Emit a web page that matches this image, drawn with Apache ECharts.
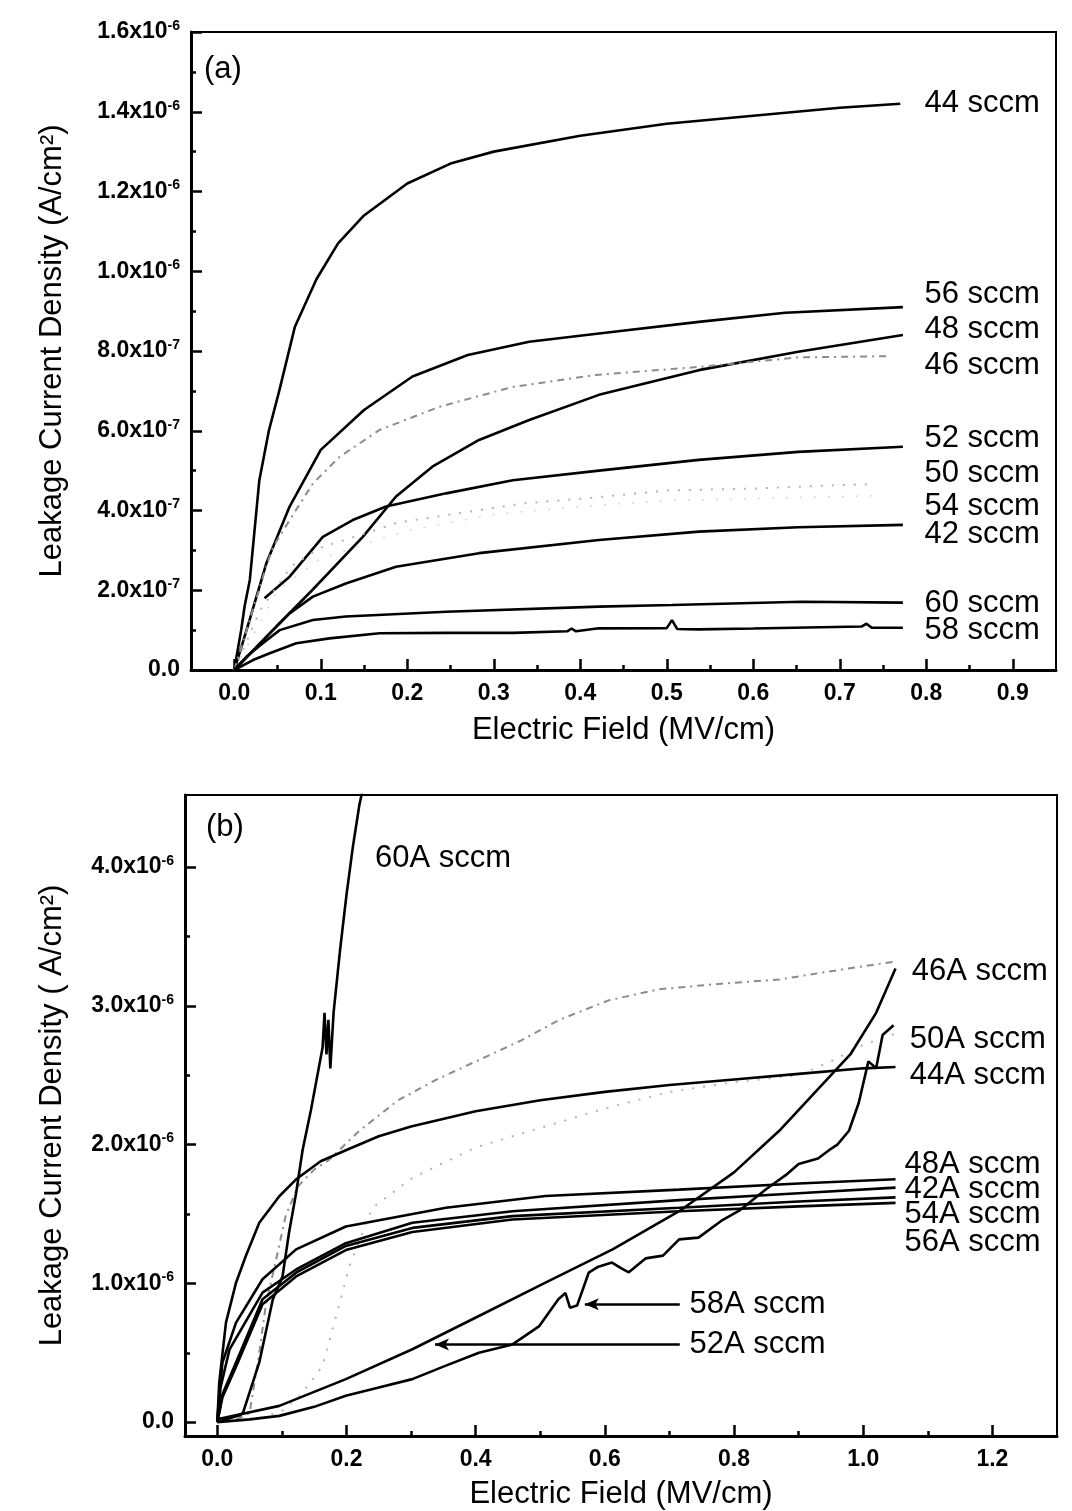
<!DOCTYPE html>
<html><head><meta charset="utf-8">
<script src="https://cdn.jsdelivr.net/npm/echarts@6/dist/echarts.min.js"></script>
<style>html,body{margin:0;padding:0;background:#fff}#c{width:1072px;height:1511px}</style>
</head><body><div id="c"></div>
<script>
// ===== Panel (a): field in MV/cm, current density in units of 1e-6 A/cm^2 =====
const a44x = [0, 0.004, 0.008, 0.012, 0.018, 0.029, 0.04, 0.052, 0.07, 0.095, 0.12, 0.15, 0.2, 0.25, 0.3, 0.4, 0.5, 0.6, 0.7, 0.77];
const a44y = [0, 0.05, 0.10, 0.16, 0.226, 0.476, 0.60, 0.70, 0.86, 0.98, 1.07, 1.14, 1.22, 1.27, 1.30, 1.34, 1.37, 1.39, 1.41, 1.42];
const a56x = [0, 0.01, 0.02, 0.037, 0.064, 0.1, 0.15, 0.206, 0.27, 0.341, 0.4216, 0.537, 0.637, 0.773];
const a56y = [0, 0.07, 0.142, 0.267, 0.41, 0.552, 0.652, 0.736, 0.79, 0.823, 0.844, 0.873, 0.896, 0.91];
const a48x = [0, 0.02, 0.0486, 0.09, 0.1486, 0.187, 0.229, 0.283, 0.341, 0.4216, 0.537, 0.652, 0.773];
const a48y = [0, 0.045, 0.109, 0.20, 0.334, 0.435, 0.51, 0.577, 0.627, 0.69, 0.752, 0.798, 0.84];
const a46x = [0, 0.01, 0.02, 0.037, 0.045, 0.064, 0.091, 0.122, 0.168, 0.237, 0.322, 0.418, 0.537, 0.652, 0.756];
const a46y = [0, 0.07, 0.14, 0.26, 0.309, 0.376, 0.468, 0.535, 0.602, 0.66, 0.71, 0.74, 0.76, 0.784, 0.787];
const a52x = [0.035, 0.064, 0.1024, 0.137, 0.1755, 0.245, 0.322, 0.4216, 0.537, 0.652, 0.773];
const a52y = [0.18, 0.234, 0.334, 0.376, 0.41, 0.443, 0.476, 0.50, 0.527, 0.547, 0.56];
const a50x = [0, 0.03, 0.066, 0.099, 0.19, 0.335, 0.404, 0.5, 0.6, 0.7, 0.74];
const a50y = [0, 0.15, 0.26, 0.306, 0.37, 0.418, 0.43, 0.45, 0.455, 0.464, 0.466];
const a54x = [0, 0.05, 0.1, 0.2, 0.3, 0.4, 0.5, 0.6, 0.7, 0.74];
const a54y = [0, 0.2, 0.28, 0.35, 0.39, 0.41, 0.425, 0.43, 0.435, 0.437];
const a42x = [0, 0.02, 0.041, 0.064, 0.0909, 0.129, 0.187, 0.283, 0.4216, 0.537, 0.652, 0.773];
const a42y = [0, 0.045, 0.092, 0.142, 0.184, 0.217, 0.259, 0.293, 0.326, 0.347, 0.358, 0.364];
const a60x = [0, 0.014, 0.033, 0.0525, 0.0909, 0.129, 0.245, 0.4216, 0.506, 0.656, 0.773];
const a60y = [0, 0.033, 0.067, 0.10, 0.1254, 0.134, 0.146, 0.159, 0.163, 0.171, 0.169];
const a58x = [0, 0.0217, 0.041, 0.0717, 0.11, 0.168, 0.245, 0.322, 0.385, 0.39, 0.395, 0.4216, 0.5, 0.506, 0.512, 0.537, 0.6, 0.725, 0.731, 0.737, 0.773];
const a58y = [0, 0.025, 0.042, 0.067, 0.0794, 0.092, 0.093, 0.093, 0.097, 0.104, 0.097, 0.1045, 0.105, 0.125, 0.103, 0.102, 0.104, 0.109, 0.116, 0.106, 0.106];

const aLabelText = ['44 sccm', '56 sccm', '48 sccm', '46 sccm', '52 sccm', '50 sccm', '54 sccm', '42 sccm', '60 sccm', '58 sccm'];
const aLabelY = [1.42, 0.943, 0.854, 0.765, 0.581, 0.493, 0.41, 0.339, 0.167, 0.10];
const aLabelX = 0.798;

// ===== Panel (b) =====
const b60x = [0, 0.02, 0.035, 0.04, 0.065, 0.086, 0.101, 0.111, 0.122, 0.132, 0.145, 0.155, 0.163, 0.166, 0.169, 0.172, 0.175, 0.18, 0.19, 0.2, 0.21, 0.22, 0.228];
const b60y = [0, 0.03, 0.05, 0.07, 0.43, 0.885, 1.05, 1.365, 1.65, 1.96, 2.25, 2.5, 2.7, 2.95, 2.65, 2.9, 2.55, 2.95, 3.4, 3.8, 4.15, 4.45, 4.62];
const b46x = [0, 0.03, 0.05, 0.065, 0.075, 0.091, 0.106, 0.125, 0.15, 0.173, 0.22, 0.28, 0.34, 0.405, 0.47, 0.53, 0.606, 0.684, 0.78, 0.87, 0.95, 1.02, 1.05];
const b46y = [0, 0.02, 0.066, 0.5, 0.84, 1.17, 1.49, 1.7, 1.82, 1.89, 2.1, 2.32, 2.47, 2.61, 2.75, 2.9, 3.04, 3.12, 3.16, 3.19, 3.25, 3.3, 3.32];
const b50x = [0, 0.06, 0.1, 0.13, 0.163, 0.193, 0.204, 0.24, 0.302, 0.4, 0.5, 0.6, 0.7, 0.8, 0.9, 0.95, 1.0, 1.05];
const b50y = [0, 0.02, 0.08, 0.2, 0.405, 0.92, 1.12, 1.545, 1.76, 1.98, 2.12, 2.26, 2.38, 2.45, 2.5, 2.6, 2.72, 2.8];
const b44x = [0, 0.003, 0.0134, 0.029, 0.044, 0.065, 0.096, 0.122, 0.16, 0.199, 0.25, 0.3, 0.4, 0.5, 0.6, 0.7, 0.8, 0.9, 1.0, 1.05];
const b44y = [0, 0.285, 0.717, 1.005, 1.196, 1.437, 1.628, 1.75, 1.88, 1.96, 2.06, 2.13, 2.24, 2.32, 2.38, 2.43, 2.47, 2.51, 2.55, 2.56];
const b48x = [0, 0.003, 0.008, 0.029, 0.07, 0.122, 0.199, 0.354, 0.508, 0.715, 0.9, 1.05];
const b48y = [0, 0.2, 0.43, 0.717, 1.03, 1.245, 1.41, 1.545, 1.63, 1.676, 1.72, 1.75];
const b42x = [0, 0.005, 0.019, 0.07, 0.122, 0.199, 0.302, 0.457, 0.715, 0.9, 1.05];
const b42y = [0, 0.25, 0.525, 0.933, 1.10, 1.29, 1.437, 1.52, 1.60, 1.65, 1.69];
const b54x = [0, 0.008, 0.029, 0.07, 0.122, 0.199, 0.302, 0.457, 0.715, 0.9, 1.05];
const b54y = [0, 0.2, 0.43, 0.885, 1.077, 1.27, 1.40, 1.485, 1.545, 1.59, 1.62];
const b56x = [0, 0.008, 0.029, 0.07, 0.122, 0.199, 0.302, 0.457, 0.715, 0.9, 1.05];
const b56y = [0, 0.18, 0.40, 0.85, 1.05, 1.24, 1.37, 1.46, 1.52, 1.555, 1.58];
const b52x = [0, 0.096, 0.199, 0.302, 0.405, 0.508, 0.612, 0.715, 0.8, 0.87, 0.93, 0.98, 1.02, 1.05];
const b52y = [0.02, 0.117, 0.31, 0.525, 0.765, 1.005, 1.245, 1.52, 1.8, 2.1, 2.4, 2.65, 2.95, 3.27];
const b58x = [0, 0.05, 0.096, 0.15, 0.199, 0.25, 0.302, 0.35, 0.405, 0.457, 0.498, 0.528, 0.539, 0.546, 0.557, 0.575, 0.59, 0.611, 0.625, 0.637, 0.663, 0.69, 0.715, 0.745, 0.78, 0.81, 0.85, 0.88, 0.9, 0.93, 0.947, 0.96, 0.978, 0.993, 1.008, 1.02, 1.03, 1.047];
const b58y = [0, 0.02, 0.045, 0.11, 0.19, 0.25, 0.31, 0.4, 0.50, 0.56, 0.69, 0.885, 0.93, 0.825, 0.84, 1.077, 1.12, 1.15, 1.11, 1.08, 1.18, 1.2, 1.317, 1.33, 1.45, 1.53, 1.68, 1.78, 1.86, 1.9, 1.96, 2.0, 2.1, 2.3, 2.6, 2.55, 2.79, 2.86];

const bLabelText = ['60A sccm', '46A sccm', '50A sccm', '44A sccm', '48A sccm', '42A sccm', '54A sccm', '56A sccm', '58A sccm', '52A sccm'];
const bLabelX = [0.244, 1.075, 1.072, 1.072, 1.064, 1.064, 1.064, 1.064, 0.731, 0.731];
const bLabelY = [4.065, 3.245, 2.755, 2.50, 1.856, 1.676, 1.496, 1.295, 0.849, 0.561];
// arrows: [from x, to x (arrow head), y]
const bArrows = [[0.716, 0.569, 0.85], [0.716, 0.337, 0.56]];

// ===== Axis ticks =====
const aXTicks = [0, 0.1, 0.2, 0.3, 0.4, 0.5, 0.6, 0.7, 0.8, 0.9];
const aXMinor = [0.05, 0.15, 0.25, 0.35, 0.45, 0.55, 0.65, 0.75, 0.85];
const aYTicks = [0, 0.2, 0.4, 0.6, 0.8, 1.0, 1.2, 1.4, 1.6];
const aYMant = ['0.0', '2.0x10', '4.0x10', '6.0x10', '8.0x10', '1.0x10', '1.2x10', '1.4x10', '1.6x10'];
const aYExp = ['', '-7', '-7', '-7', '-7', '-6', '-6', '-6', '-6'];
const aYMinor = [0.1, 0.3, 0.5, 0.7, 0.9, 1.1, 1.3, 1.5];
const bXTicks = [0, 0.2, 0.4, 0.6, 0.8, 1.0, 1.2];
const bXMinor = [0.1, 0.3, 0.5, 0.7, 0.9, 1.1];
const bYTicks = [0, 1, 2, 3, 4];
const bYMant = ['0.0', '1.0x10', '2.0x10', '3.0x10', '4.0x10'];
const bYExp = ['', '-6', '-6', '-6', '-6'];
const bYMinor = [0.5, 1.5, 2.5, 3.5];

const FF = "'Liberation Sans', Arial, Helvetica, sans-serif";
const pts = (xs, ys) => xs.map((x, i) => [x, ys[i]]);

const SOLID = {color: '#000', width: 2.6, type: 'solid'};
const DASHGRAY = {color: '#8c8c8c', width: 2, type: [7, 5, 2, 5]};
const DOTLIGHT = {color: '#b4b4b4', width: 2, type: [2, 9]};
const DOTFAINT = {color: '#d6d6d6', width: 1.5, type: [2, 12]};

function line(xs, ys, g, style, name) {
  return {type: 'line', name, xAxisIndex: g * 2, yAxisIndex: g * 2, data: pts(xs, ys),
    showSymbol: false, symbol: 'none', lineStyle: style, silent: true, z: 3, animation: false};
}

function yFmt(ticks, mant, exp) {
  return v => {
    const i = ticks.findIndex(t => Math.abs(t - v) < 1e-6);
    if (i < 0) return '';
    return '{m|' + mant[i] + '}' + (exp[i] ? '{e|' + exp[i] + '}' : '');
  };
}
const yRich = {
  m: {fontSize: 23, fontWeight: 'bold', fontFamily: FF, color: '#000', lineHeight: 26},
  e: {fontSize: 14, fontWeight: 'bold', fontFamily: FF, color: '#000', lineHeight: 13, verticalAlign: 'top'}
};

function mainX(g, min, max, ticks, name, gap) {
  return {type: 'value', gridIndex: g, min, max, position: 'bottom',
    axisLine: {show: true, onZero: false, lineStyle: {color: '#000', width: 3}},
    axisTick: {show: true, inside: true, length: 11, lineStyle: {color: '#000', width: 2.5}, customValues: ticks},
    axisLabel: {show: true, customValues: ticks, margin: 12, formatter: v => v.toFixed(1),
      fontSize: 23, fontWeight: 'bold', fontFamily: FF, color: '#000'},
    splitLine: {show: false},
    name, nameLocation: 'middle', nameGap: gap,
    nameTextStyle: {fontSize: 31, fontFamily: FF, color: '#000'}};
}
function minorX(g, min, max, ticks) {
  return {type: 'value', gridIndex: g, min, max, position: 'bottom',
    axisLine: {show: false, onZero: false}, axisLabel: {show: false}, splitLine: {show: false},
    axisTick: {show: true, inside: true, length: 5, lineStyle: {color: '#000', width: 2.5}, customValues: ticks}};
}
function mainY(g, min, max, ticks, mant, exp, name, gap) {
  return {type: 'value', gridIndex: g, min, max, position: 'left',
    axisLine: {show: true, onZero: false, lineStyle: {color: '#000', width: 3}},
    axisTick: {show: true, inside: true, length: 11, lineStyle: {color: '#000', width: 2.5}, customValues: ticks},
    axisLabel: {show: true, customValues: ticks, margin: 11, formatter: yFmt(ticks, mant, exp), rich: yRich},
    splitLine: {show: false},
    name, nameLocation: 'middle', nameGap: gap,
    nameTextStyle: {fontSize: 31, fontFamily: FF, color: '#000'}};
}
function minorY(g, min, max, ticks) {
  return {type: 'value', gridIndex: g, min, max, position: 'left',
    axisLine: {show: false, onZero: false}, axisLabel: {show: false}, splitLine: {show: false},
    axisTick: {show: true, inside: true, length: 5, lineStyle: {color: '#000', width: 2.5}, customValues: ticks}};
}

const labelStyle = {show: true, position: 'right', distance: 0, formatter: p => p.data[2],
  fontSize: 31, fontFamily: FF, color: '#000', opacity: 1};

const series = [
  line(a44x, a44y, 0, SOLID, '44 sccm'),
  line(a56x, a56y, 0, SOLID, '56 sccm'),
  line(a48x, a48y, 0, SOLID, '48 sccm'),
  line(a46x, a46y, 0, DASHGRAY, '46 sccm'),
  line(a52x, a52y, 0, SOLID, '52 sccm'),
  line(a50x, a50y, 0, DOTLIGHT, '50 sccm'),
  line(a54x, a54y, 0, DOTFAINT, '54 sccm'),
  line(a42x, a42y, 0, SOLID, '42 sccm'),
  line(a60x, a60y, 0, SOLID, '60 sccm'),
  line(a58x, a58y, 0, SOLID, '58 sccm'),
  {type: 'scatter', xAxisIndex: 0, yAxisIndex: 0, symbolSize: 0, silent: true, animation: false,
    itemStyle: {opacity: 1}, z: 5,
    data: aLabelText.map((t, i) => [aLabelX, aLabelY[i], t]), label: labelStyle},

  line(b46x, b46y, 1, DASHGRAY, '46A sccm'),
  line(b50x, b50y, 1, DOTLIGHT, '50A sccm'),
  line(b44x, b44y, 1, SOLID, '44A sccm'),
  line(b48x, b48y, 1, SOLID, '48A sccm'),
  line(b42x, b42y, 1, SOLID, '42A sccm'),
  line(b54x, b54y, 1, SOLID, '54A sccm'),
  line(b56x, b56y, 1, SOLID, '56A sccm'),
  line(b52x, b52y, 1, SOLID, '52A sccm'),
  line(b58x, b58y, 1, SOLID, '58A sccm'),
  line(b60x, b60y, 1, SOLID, '60A sccm'),
  {type: 'scatter', xAxisIndex: 2, yAxisIndex: 2, symbolSize: 0, silent: true, animation: false,
    itemStyle: {opacity: 1}, z: 5,
    data: bLabelText.map((t, i) => [bLabelX[i], bLabelY[i], t]), label: labelStyle,
    markLine: {silent: true, animation: false, symbol: ['none', 'arrow'], symbolSize: [9, 14],
      lineStyle: {color: '#000', width: 2.5, type: 'solid', opacity: 1}, label: {show: false},
      data: bArrows.map(a => [{coord: [a[0], a[2]]}, {coord: [a[1], a[2]]}])}}
];

const chart = echarts.init(document.getElementById('c'), null, {renderer: 'canvas'});
chart.setOption({
  animation: false,
  backgroundColor: '#fff',
  grid: [
    {left: 191, top: 32, width: 865, height: 638, show: true, borderColor: '#000', borderWidth: 2, backgroundColor: 'transparent'},
    {left: 185, top: 795, width: 872, height: 642, show: true, borderColor: '#000', borderWidth: 2, backgroundColor: 'transparent'}
  ],
  xAxis: [
    mainX(0, -0.05, 0.95, aXTicks, 'Electric Field (MV/cm)', 45),
    minorX(0, -0.05, 0.95, aXMinor),
    mainX(1, -0.05, 1.3, bXTicks, 'Electric Field (MV/cm)', 43),
    minorX(1, -0.05, 1.3, bXMinor)
  ],
  yAxis: [
    mainY(0, 0, 1.6, aYTicks, aYMant, aYExp, 'Leakage Current Density (A/cm²)', 123),
    minorY(0, 0, 1.6, aYMinor),
    mainY(1, -0.1, 4.52, bYTicks, bYMant, bYExp, 'Leakage Current Density ( A/cm²)', 117),
    minorY(1, -0.1, 4.52, bYMinor)
  ],
  graphic: [
    {type: 'text', left: 204, top: 54, style: {text: '(a)', fontSize: 31, fontFamily: FF, fill: '#000'}},
    {type: 'text', left: 206, top: 812, style: {text: '(b)', fontSize: 31, fontFamily: FF, fill: '#000'}}
  ],
  series
});
</script>
</body></html>
